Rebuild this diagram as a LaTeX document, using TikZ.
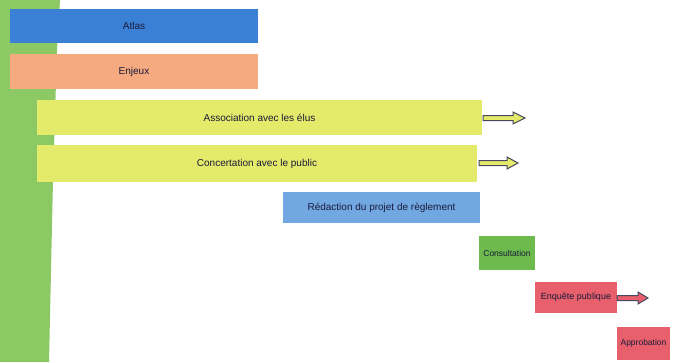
\documentclass[tikz,border=0pt]{standalone}
\usepackage{fontspec}
\setmainfont{Liberation Sans}
\definecolor{barG}{HTML}{8CC863}
\definecolor{bleuF}{HTML}{3A80D4}
\definecolor{orangeC}{HTML}{F5AA80}
\definecolor{jauneC}{HTML}{E4EA6A}
\definecolor{bleuC}{HTML}{72A8E2}
\definecolor{vertC}{HTML}{6CBB4C}
\definecolor{rougeC}{HTML}{E8606C}
\definecolor{txt}{HTML}{1A1A3A}
\begin{document}
\begin{tikzpicture}[x=1pt,y=-1pt,
  task/.style={anchor=north west,inner sep=0pt,outer sep=0pt,font=\fontsize{10}{11}\selectfont,text=txt,align=center},
  blockarrow/.style={fill=jauneC,draw=txt!80,line width=1pt,line join=miter}]
\useasboundingbox (0,0) rectangle (681,362);
\fill[white] (0,0) rectangle (681,362);
% green vertical bar
\fill[barG] (0,0) -- (60,0) -- (57,50) -- (53,180) -- (49,362) -- (0,362) -- cycle;
% tasks
\node[task,fill=bleuF,minimum width=248,minimum height=34] (atlas) at (10,9) {Atlas};
\node[task,fill=orangeC,minimum width=248,minimum height=35] (enjeux) at (10,54) {Enjeux};
\node[task,fill=jauneC,minimum width=445,minimum height=35] (assoc) at (37,100) {Association avec les élus};
\node[task,fill=jauneC,minimum width=440,minimum height=37] (concert) at (37,145) {Concertation avec le public};
\node[task,fill=bleuC,minimum width=197,minimum height=31] (redac) at (283,192) {Rédaction du projet de règlement};
\node[task,fill=vertC,minimum width=56,minimum height=34,font=\fontsize{8.5}{10}\selectfont] (consult) at (479,236) {Consultation};
\node[task,fill=rougeC,minimum width=82,minimum height=31,font=\fontsize{9}{10}\selectfont] (enquete) at (535,282) {Enquête publique};
\node[task,fill=rougeC,minimum width=53,minimum height=33,font=\fontsize{8.5}{10}\selectfont] (approb) at (617,327) {Approbation};
% continuation arrows
\coordinate (a1) at (525,118);
\coordinate (a2) at (518,163);
\coordinate (a3) at (648,298);
\draw[blockarrow] ([xshift=1]assoc.east |- a1) ++(0,-2.5) -- ++(30,0) -- ++(0,-3.5) -- (a1) -- ++(-12,6) -- ++(0,-3.5) -- ++(-30,0) -- cycle;
\draw[blockarrow] ([xshift=2]concert.east |- a2) ++(0,-2.5) -- ++(28,0) -- ++(0,-3.5) -- (a2) -- ++(-11,6) -- ++(0,-3.5) -- ++(-28,0) -- cycle;
\draw[blockarrow,fill=rougeC] (enquete.east |- a3) ++(0,-2.5) -- ++(21,0) -- ++(0,-3.5) -- (a3) -- ++(-10,6) -- ++(0,-3.5) -- ++(-21,0) -- cycle;
\end{tikzpicture}
\end{document}
